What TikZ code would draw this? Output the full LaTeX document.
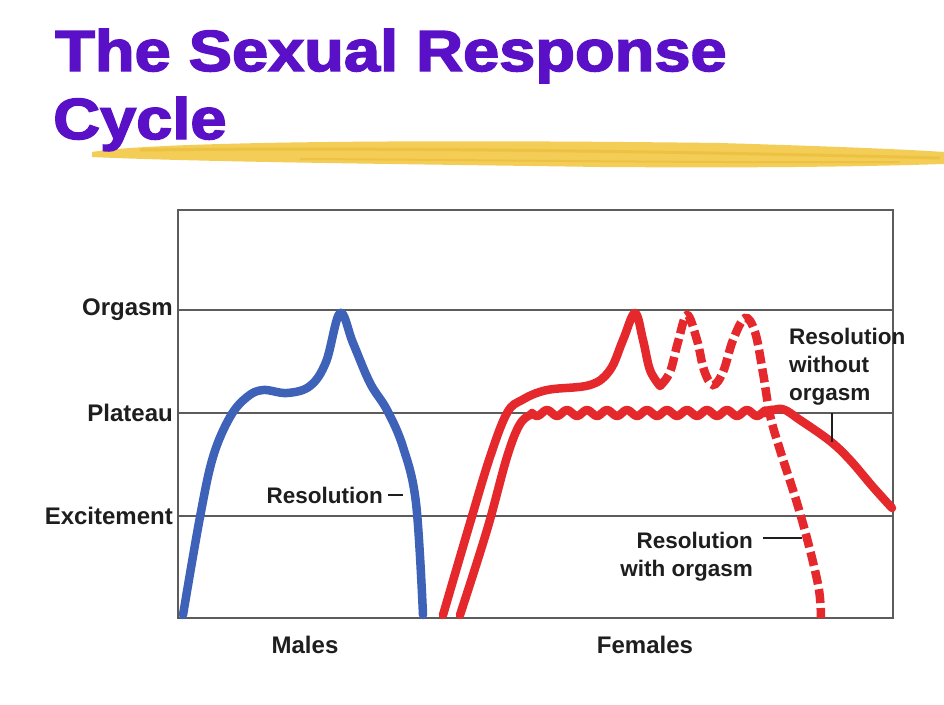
\documentclass[tikz,border=0pt]{standalone}
\usepackage{fontspec}
\setmainfont{Liberation Sans}
\newfontfamily\titlefont{Liberation Sans}[BoldFeatures={FakeBold=2.5}]
\usepackage{xcolor}

\definecolor{titlepurple}{HTML}{5A10C6}
\definecolor{brushyellow}{HTML}{F3CD55}
\definecolor{brushdark}{HTML}{E9B935}
\definecolor{malesblue}{HTML}{3D62B8}
\definecolor{femred}{HTML}{E5282B}
\definecolor{gridgray}{HTML}{5C5C5C}
\definecolor{labelblack}{HTML}{1E1E1E}

\begin{document}
\begin{tikzpicture}[x=1pt,y=-1pt,
  titletext/.style={anchor=base west,inner sep=0pt,text=titlepurple,font=\titlefont\fontsize{58}{64}\selectfont\bfseries},
  axislabel/.style={anchor=east,inner sep=2pt,text=labelblack,font=\fontsize{24}{28}\selectfont\bfseries},
  curvelabel/.style={inner sep=0pt,text=labelblack,font=\fontsize{22.5}{28}\selectfont\bfseries},
  gridline/.style={gridgray,line width=1.6pt},
  maleline/.style={malesblue,line width=8.5pt,line cap=round,line join=round},
  femline/.style={femred,line width=8.5pt,line cap=round,line join=round},
  femdash/.style={femred,line width=8.5pt,dash pattern=on 14pt off 5pt},
  callout/.style={labelblack,line width=1.5pt}]
\useasboundingbox (0,0) rectangle (944,704);
\fill[white] (0,0) rectangle (944,704);

% title and brush stroke
\fill[brushyellow] (92,152) .. controls (150,142) and (400,139) .. (720,143)
  .. controls (820,146) and (900,149) .. (944,152) -- (944,164)
  .. controls (850,167) and (750,168) .. (600,167)
  .. controls (400,164) and (200,162) .. (92,157) -- cycle;
\draw[brushdark,line width=3pt,opacity=0.6] (140,150) .. controls (400,147) and (700,152) .. (940,158);
\draw[brushdark,line width=2pt,opacity=0.5] (300,159) .. controls (500,160) and (700,163) .. (900,162);
\node[titletext] (title) at (55,71) {\scalebox{1.12}[1]{The Sexual Response}};
\node[titletext] (cycle) at (53,139) {\scalebox{1.12}[1]{Cycle}};

% chart frame and levels
\draw[gridline] (178,210) rectangle (893,618);
\foreach \lvl/\ypos in {Orgasm/310,Plateau/413,Excitement/516}
{ \draw[gridline] (178,\ypos) -- (893,\ypos);
  \node[axislabel] (\lvl) at (175,\ypos) {\lvl};}
\node[axislabel,anchor=center] (males) at (305,645) {Males};
\node[axislabel,anchor=center] (females) at (645,645) {Females};

% males
\draw[maleline] plot[smooth,tension=0.6] coordinates {(183,615) (200,517) (213,457) (230,417)
  (247,397) (263,390) (287,393) (310,386) (326,362) (340,313) (353,343) (370,383)
  (387,410) (403,447) (416,503) (423,615)};
\node[curvelabel,anchor=east] (resmale) at (383,495) {Resolution};
\coordinate (resmaletip) at (403,495);
\draw[callout] ([xshift=5pt]resmale.east) -- (resmaletip);

% females
\draw[femline] plot[smooth,tension=0.6] coordinates {(443,615) (470,523) (490,457) (507,413)
  (522,400) (547,390) (590,385) (610,370) (623,340) (635,313) (643,340) (650,370) (660,386)};
\draw[femdash] plot[smooth,tension=0.6] coordinates {(660,386) (670,372) (678,342) (687,315)
  (697,340) (704,370) (713,385) (723,372) (733,340) (745,318) (755,332) (763,373) (770,415)
  (780,450) (797,503) (810,550) (819,590) (821,618)};
\draw[femline] plot[smooth,tension=0.6] coordinates {(460,615) (487,530) (507,457) (520,424) (532,414)}
  -- plot[domain=532:765,samples=120] (\x,{413+3*sin(18*(\x-532))})
  -- plot[smooth,tension=0.6] coordinates {(765,413) (782,409) (800,420) (830,441)
  (850,460) (873,487) (892,508)};

\node[curvelabel,align=right,anchor=east] (reswith) at (753,557) {Resolution\\with orgasm};
\coordinate (withtip) at (802,538);
\draw[callout] ([xshift=10pt]reswith.east |- withtip) -- (withtip);
\node[curvelabel,align=left,anchor=north west] (reswithout) at (789,328) {Resolution\\without\\orgasm};
\coordinate (withouttip) at (832,442);
\draw[callout] (withouttip |- Plateau) -- (withouttip);
\end{tikzpicture}
\end{document}
